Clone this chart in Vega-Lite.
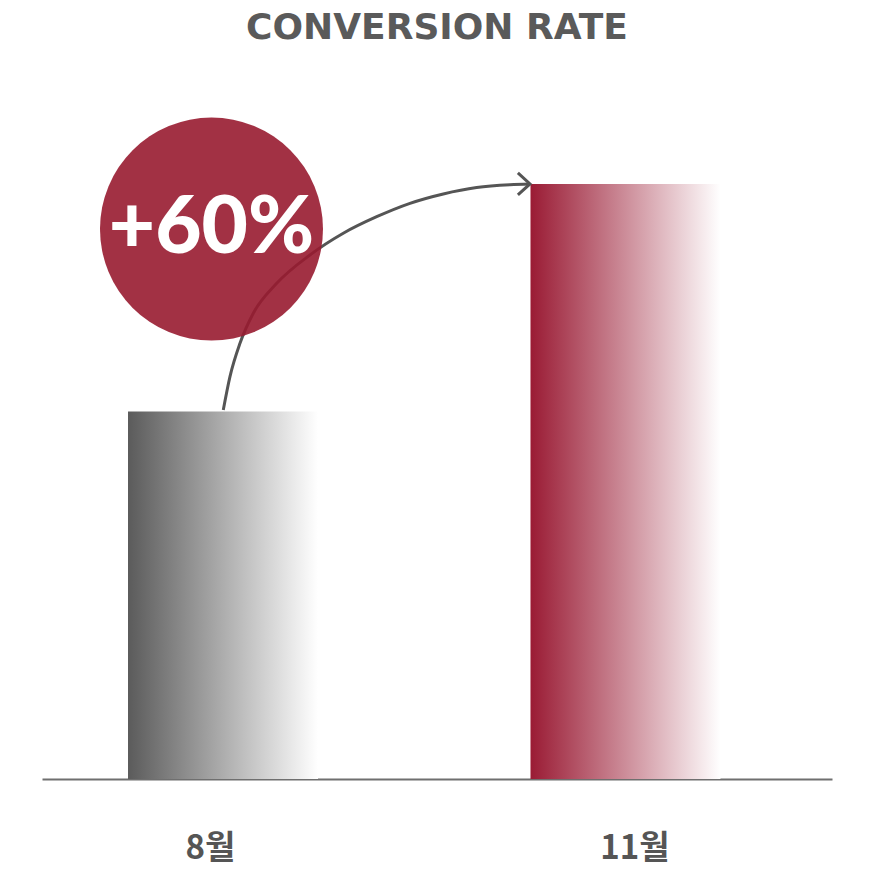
{
  "$schema": "https://vega.github.io/schema/vega-lite/v6.json",
  "width": 790,
  "height": 699,
  "autosize": {"type": "none"},
  "padding": {"left": 42, "top": 80, "right": 42, "bottom": 90},
  "background": "white",
  "config": {"view": {"stroke": null}},
  "title": {
    "text": "CONVERSION RATE",
    "font": "DejaVu Sans",
    "fontSize": 36,
    "fontWeight": "bold",
    "color": "#5a5a5a",
    "anchor": "middle",
    "frame": "group",
    "offset": 33
  },
  "datasets": {
    "rates": [
      {"month": "8월", "rate": 2.47},
      {"month": "11월", "rate": 4.0}
    ],
    "arrow": [
      {"pos": 0.002, "rate": 2.481},
      {"pos": 0.0186, "rate": 2.705},
      {"pos": 0.0435, "rate": 2.929},
      {"pos": 0.0765, "rate": 3.131},
      {"pos": 0.1347, "rate": 3.332},
      {"pos": 0.2174, "rate": 3.523},
      {"pos": 0.3001, "rate": 3.669},
      {"pos": 0.3831, "rate": 3.78},
      {"pos": 0.4658, "rate": 3.87},
      {"pos": 0.5486, "rate": 3.933},
      {"pos": 0.6315, "rate": 3.976},
      {"pos": 0.7143, "rate": 3.995},
      {"pos": 0.764, "rate": 4.0}
    ],
    "tip": [{"pos": 0.764, "rate": 4.0}],
    "badge": [{"pos": -0.0273, "rate": 3.697, "label": "+60%"}]
  },
  "layer": [
    {
      "data": {"name": "rates"},
      "mark": {"type": "bar"},
      "encoding": {
        "x": {
          "field": "month",
          "type": "nominal",
          "sort": ["8월", "11월"],
          "scale": {"domain": ["8월", "11월"], "paddingInner": 0.528, "paddingOuter": 0.2454, "align": 0.4354},
          "axis": {
            "title": null,
            "ticks": false,
            "labelAngle": 0,
            "domainColor": "#6f6f6f",
            "domainWidth": 2,
            "labelFont": "Noto Sans CJK KR",
            "labelFontSize": 33,
            "labelFontWeight": "bold",
            "labelColor": "#555555",
            "labelPadding": 53,
            "labelOffset": {"condition": {"test": "datum.value === '8월'", "value": -12.5}, "value": 9.5}
          }
        },
        "y": {
          "field": "rate",
          "type": "quantitative",
          "scale": {"domain": [0, 4.699], "nice": false},
          "axis": null
        },
        "color": {
          "condition": {
            "test": "datum.month === '8월'",
            "value": {"gradient": "linear", "x1": 0, "y1": 0, "x2": 1, "y2": 0, "stops": [{"offset": 0, "color": "#5b5b5b"}, {"offset": 1, "color": "#ffffff"}]}
          },
          "value": {"gradient": "linear", "x1": 0, "y1": 0, "x2": 1, "y2": 0, "stops": [{"offset": 0, "color": "#9a1b34"}, {"offset": 1, "color": "#ffffff"}]}
        }
      }
    },
    {
      "data": {"name": "arrow"},
      "mark": {"type": "line", "interpolate": "monotone", "stroke": "#555555", "strokeWidth": 3},
      "encoding": {
        "x": {"field": "pos", "type": "quantitative", "scale": {"domain": [-0.4484, 1.5143], "nice": false, "zero": false}, "axis": null},
        "y": {"field": "rate", "type": "quantitative", "scale": {"domain": [0, 4.699], "nice": false}, "axis": null}
      }
    },
    {
      "data": {"name": "tip"},
      "mark": {"type": "point", "shape": "M-1.1,-1L0,0L-1.1,1", "filled": false, "stroke": "#555555", "strokeWidth": 3, "size": 484, "opacity": 1, "strokeJoin": "miter"},
      "encoding": {
        "x": {"field": "pos", "type": "quantitative", "scale": {"domain": [-0.4484, 1.5143], "nice": false, "zero": false}, "axis": null},
        "y": {"field": "rate", "type": "quantitative", "scale": {"domain": [0, 4.699], "nice": false}, "axis": null}
      }
    },
    {
      "data": {"name": "badge"},
      "mark": {"type": "circle", "size": 49729, "color": "#981b30", "opacity": 0.9},
      "encoding": {
        "x": {"field": "pos", "type": "quantitative", "scale": {"domain": [-0.4484, 1.5143], "nice": false, "zero": false}, "axis": null},
        "y": {"field": "rate", "type": "quantitative", "scale": {"domain": [0, 4.699], "nice": false}, "axis": null}
      }
    },
    {
      "data": {"name": "badge"},
      "mark": {"type": "text", "font": "Lato", "fontWeight": 900, "fontSize": 80, "color": "#ffffff", "align": "center", "baseline": "middle"},
      "encoding": {
        "x": {"field": "pos", "type": "quantitative", "scale": {"domain": [-0.4484, 1.5143], "nice": false, "zero": false}, "axis": null},
        "y": {"field": "rate", "type": "quantitative", "scale": {"domain": [0, 4.699], "nice": false}, "axis": null},
        "text": {"field": "label"}
      }
    }
  ],
  "resolve": {"scale": {"x": "independent"}, "axis": {"x": "independent"}}
}
